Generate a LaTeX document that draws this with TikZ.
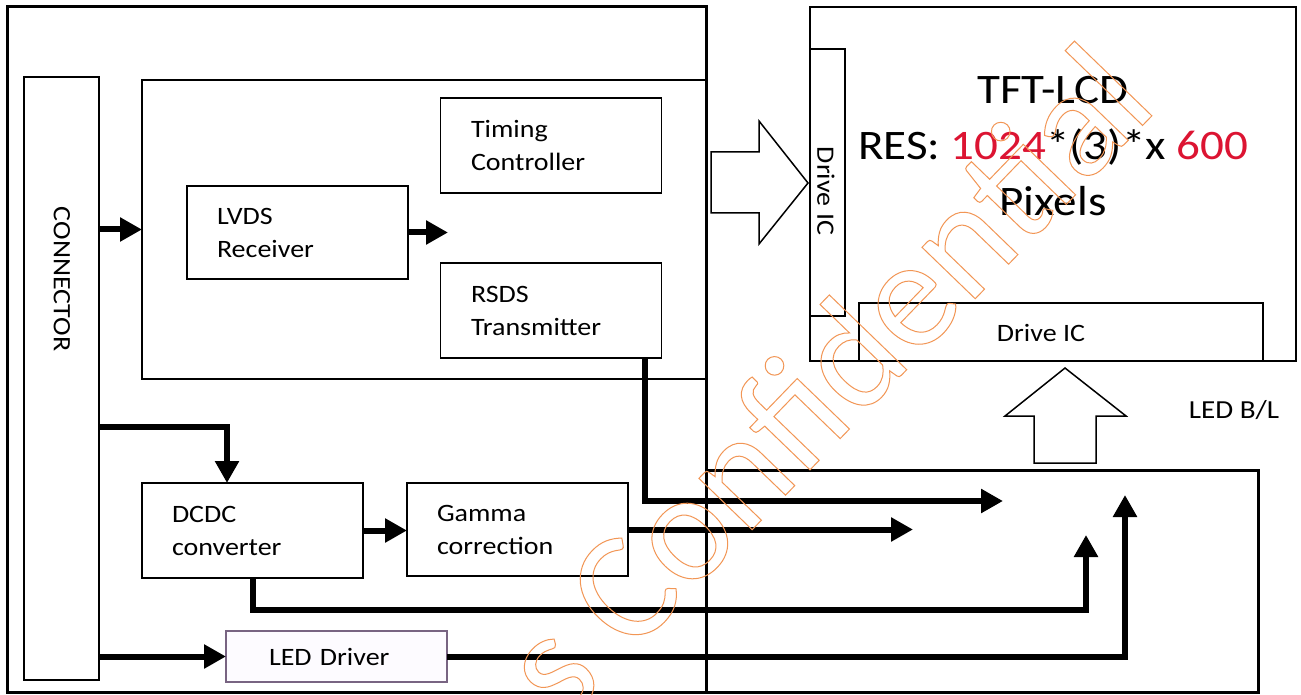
\documentclass[tikz,border=0pt]{standalone}
\usepackage{fontspec}
\setmainfont{Carlito}[FakeStretch=1.12]
\newfontfamily\wmfont{Carlito}
\usetikzlibrary{arrows.meta}
\definecolor{resred}{RGB}{220,20,50}
\definecolor{wmorange}{RGB}{242,150,85}
\definecolor{ledborder}{RGB}{120,100,130}
\definecolor{ledfill}{RGB}{253,251,255}
\newcommand\outlinetext[1]{\special{pdf:literal direct 1 Tr 1.0 w}#1\special{pdf:literal direct 0 Tr}}
\tikzset{
  box/.style={draw, line width=1.6pt, inner sep=0pt, outer sep=0pt},
  txtbox/.style={box, minimum width=221pt, minimum height=95pt, text width=161pt,
    inner xsep=30pt, align=left, font=\fontsize{25}{33}\selectfont},
  lbl/.style={inner sep=0pt, outer sep=0pt, font=\fontsize{25}{33}\selectfont},
  flow/.style={line width=6pt, -{Triangle[length=22pt,width=23pt]}},
  hollow/.style={draw, line width=1.5pt, line join=miter},
}
\begin{document}
\begin{tikzpicture}[x=1pt, y=-1pt]
\useasboundingbox (0,0) rectangle (1301,695);
\fill[white] (0,0) rectangle (1301,695);

% left board
\node[box, line width=3pt, minimum width=699pt, minimum height=685pt] (outer) at (356.5,349.5) {};
\node[box, minimum width=75pt, minimum height=603pt] (conn) at (61.5,378.5) {};
\node[lbl, rotate=-90] (conntext) at (62,279) {CONNECTOR};
\node[box, minimum width=564pt, minimum height=299pt] (tcon) at (424,229.5) {};
\node[txtbox, text width=160pt] (timing) at (551,145.5) {Timing\\Controller};
\node[txtbox, minimum height=93pt] (lvds) at (297.5,232.5) {LVDS\\Receiver};
\node[txtbox, text width=160pt] (rsds) at (551,310.5) {RSDS\\Transmitter};
\node[txtbox] (dcdc) at (252.5,530.5) {DCDC\\converter};
\node[txtbox, minimum height=93pt] (gamma) at (517.5,529.5) {Gamma\\correction};
\node[txtbox, draw=ledborder, fill=ledfill, minimum height=51pt, inner xsep=43pt, text width=135pt] (led) at (336.5,656.5) {LED Driver};

% backlight box
\node[box, line width=3pt, minimum width=552pt, minimum height=222pt] (bl) at (982,581) {};
\node[lbl, font=\fontsize{26}{30}\selectfont] (bltext) at (1234,410) {LED B/L};

% panel
\node[box, line width=1.8pt, minimum width=486pt, minimum height=354pt] (tft) at (1053,184) {};
\node[box, minimum width=35pt, minimum height=267pt] (dicv) at (827.5,182.5) {};
\node[lbl, rotate=-90] (dicvtext) at (826,191) {Drive IC};
\node[box, minimum width=404pt, minimum height=58pt] (dich) at (1061,332) {};
\node[lbl] (dichtext) at (1041,333) {Drive IC};
\node[align=center, inner sep=0pt, font=\fontsize{42}{56}\selectfont] (tfttext) at (1053,146)
  {TFT-LCD\\RES: \textcolor{resred}{1024}*(3)*x \textcolor{resred}{600}\\Pixels};

% hollow arrows
\draw[hollow] (711,152) -- (759,152) -- (759,121) -- (808,183) -- (759,244) -- (759,213) -- (711,213) -- cycle;
\draw[hollow] (1034,463) -- (1034,416) -- (1005,416) -- (1065,368) -- (1126,416) -- (1096,416) -- (1096,463) -- cycle;

% free ends
\coordinate (lvdsout) at (448,232.5);
\coordinate (rsdsend) at (1003,501);
\coordinate (gammaend) at (913,529.5);
\coordinate (dcdcend) at (1086,535);
\coordinate (ledend) at (1125,495);

% connectors
\draw[flow] (conn.east |- tcon.west) -- (tcon.west);
\draw[flow] (lvds.east) -- (lvdsout);
\draw[flow] (conn.east |- 0,427) -| (dcdc.north -| 227,0);
\draw[flow] (dcdc.east) -- (dcdc.east -| gamma.west);
\draw[flow] (conn.east |- led.west) -- (led.west);
\draw[flow] (rsds.south -| 645,0) |- (rsdsend);
\draw[flow] (gamma.east) -- (gammaend);
\draw[flow] (dcdc.south) -- (dcdc.south |- 0,610) -| (dcdcend);
\draw[flow] (led.east) -| (ledend);

% watermark
\begin{scope}
\clip (0,0) rectangle (1301,695);
\node[text=wmorange, rotate=46, anchor=base, inner sep=0pt,
  font=\wmfont\fontsize{155}{155}\selectfont] (wm) at (862,416)
  {\outlinetext{s Confidential}};
\end{scope}
\end{tikzpicture}
\end{document}
